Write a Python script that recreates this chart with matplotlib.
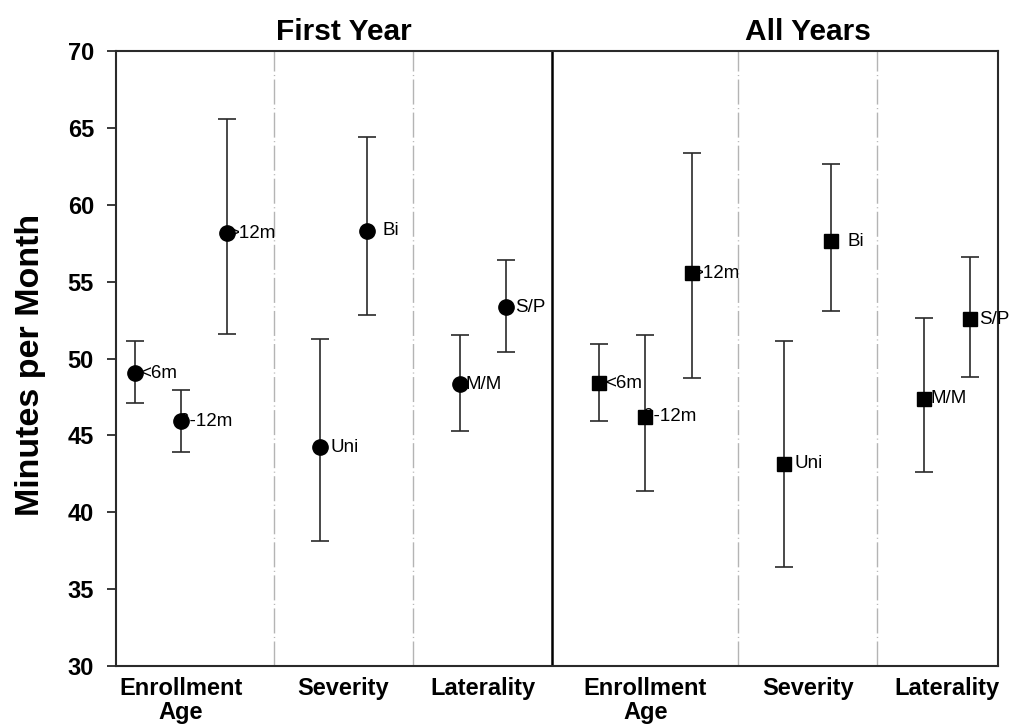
import matplotlib
matplotlib.use("Agg")
import matplotlib.pyplot as plt
import matplotlib.transforms as mtransforms

plt.rcParams['font.family'] = ['Liberation Sans', 'DejaVu Sans']

panels = ["First Year", "All Years"]
groups = ["Enrollment\nAge", "Severity", "Laterality"]
levels = [["<6m", "6-12m", ">12m"], ["Uni", "Bi"], ["M/M", "S/P"]]

# minutes per month: mean with lower / upper error bar ends, in level order
first_mean = [49.05, 45.93, 58.15, 44.22, 58.31, 48.34, 53.33]
first_lower = [47.08, 43.90, 51.60, 38.13, 52.81, 45.31, 50.40]
first_upper = [51.14, 47.95, 65.58, 51.25, 64.39, 51.55, 56.39]

all_mean = [48.38, 46.22, 55.54, 43.17, 57.64, 47.39, 52.55]
all_lower = [45.96, 41.40, 48.73, 36.46, 53.07, 42.64, 48.80]
all_upper = [50.96, 51.55, 63.39, 51.14, 62.65, 52.63, 56.58]

panel_data = [(first_mean, first_lower, first_upper, 'o', 11),
              (all_mean, all_lower, all_upper, 's', 9.6)]

fig = plt.figure(figsize=(10.13, 7.26), dpi=100)
ax = fig.add_axes([116 / 1013, 1 - 666 / 726, 882 / 1013, 615 / 726])

line_col = '#2a2a2a'
pos = 0
group_centers, group_names, dividers, panel_edges, sev_centers = [], [], [], [], []
for (mean, lower, upper, marker, msize), title in zip(panel_data, panels):
    xs = []
    for g, labs in zip(groups, levels):
        gx = list(range(pos, pos + len(labs)))
        xs += gx
        group_centers.append(sum(gx) / len(gx))
        group_names.append(g)
        if g == "Severity":
            sev_centers.append(sum(gx) / len(gx))
        pos += len(labs)
        dividers.append(pos)
        pos += 1
    panel_edges.append(dividers.pop())

    err = [[m - lo for m, lo in zip(mean, lower)], [u - m for m, u in zip(mean, upper)]]
    ax.errorbar(xs, mean, yerr=err, fmt='none', ecolor=line_col, elinewidth=1.2,
                capsize=6.5, capthick=1.2, zorder=2)
    ax.plot(xs, mean, linestyle='none', marker=marker, markersize=msize,
            color='black', zorder=4)
    labels = [l for labs in levels for l in labs]
    for x, m, lab in zip(xs, mean, labels):
        ax.annotate(lab, (x, m), xytext=(17.6, 0), textcoords='offset points',
                    ha='center', va='center', fontsize=13.5, zorder=3)

# dashed separators between groups, solid line between the two panels
for d in dividers:
    ax.axvline(d, color='#b4b4b4', linewidth=1.0, dashes=(18, 2.5, 0.8, 2.5), zorder=1)
ax.axvline(panel_edges[0], color='black', linewidth=1.8, zorder=1)

ax.set_xlim(-0.4, panel_edges[-1] - 0.4)
ax.set_ylim(30, 70)
ax.set_yticks(range(30, 71, 5))
ax.set_xticks(group_centers)
ax.set_xticklabels(group_names, fontsize=17, fontweight='bold', linespacing=1.05)
ax.tick_params(axis='x', length=0, pad=8)
ax.tick_params(axis='y', length=6.5, width=1.3, color=line_col, pad=9.4)
for t in ax.get_yticklabels():
    t.set_fontsize(17)
    t.set_fontweight('bold')
for sp in ax.spines.values():
    sp.set_color(line_col)
    sp.set_linewidth(1.5)

trans = mtransforms.blended_transform_factory(ax.transData, ax.transAxes)
for cx, title in zip(sev_centers, panels):
    ax.text(cx, 1.0179, title, transform=trans, ha='center', va='baseline',
            fontsize=21.5, fontweight='bold')

fig.text(31 / 1013, 1 - 365 / 726, "Minutes per Month", rotation=90,
         ha='center', va='center', fontsize=24.5, fontweight='bold')

fig.savefig("out.png", dpi=100)
